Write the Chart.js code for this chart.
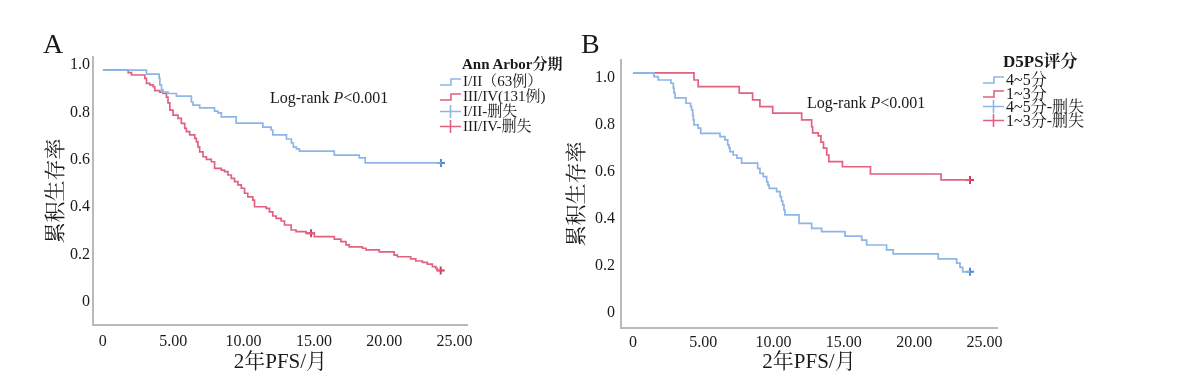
<!DOCTYPE html>
<html>
<head>
<meta charset="utf-8">
<script src="https://cdn.jsdelivr.net/npm/chart.js@4.4.1/dist/chart.umd.min.js"></script>
<style>
  html, body { margin:0; padding:0; background:#fff; }
  body { width:1185px; height:383px; position:relative; overflow:hidden;
         font-family:'Liberation Serif','Noto Serif CJK SC','Noto Sans CJK SC',serif; color:#1a1a1a; }
  canvas { position:absolute; top:0; }
  .t { position:absolute; white-space:nowrap; line-height:16px; }
  .leg { position:absolute; white-space:nowrap; font-size:15px; line-height:15px; }
  .leg div { height:15px; display:flex; align-items:center; }
  .leg svg { width:22px; height:15px; margin-right:1px; flex:none; }
</style>
</head>
<body>
<canvas id="cA" width="480" height="383" style="left:0px"></canvas>
<canvas id="cB" width="480" height="383" style="left:530px"></canvas>

<div class="t" style="left:43px;top:28px;font-size:28px;line-height:32px;">A</div>
<div class="t" style="left:581px;top:28px;font-size:28px;line-height:32px;">B</div>
<div class="t" style="left:270px;top:90px;font-size:16px;">Log-rank <i>P</i>&lt;0.001</div>
<div class="t" style="left:807px;top:95px;font-size:16px;">Log-rank <i>P</i>&lt;0.001</div>

<div class="leg" style="left:440px;top:55px;">
  <div style="font-weight:bold;padding-left:22px;height:19px;">Ann Arbor分期</div>
  <div><svg viewBox="0 0 22 15"><polyline points="0,11 11,11 11,5 21,5" fill="none" stroke="#8cb6e6" stroke-width="1.6"/></svg>I/II（63例）</div>
  <div><svg viewBox="0 0 22 15"><polyline points="0,11 11,11 11,5 21,5" fill="none" stroke="#e0627f" stroke-width="1.6"/></svg>III/IV(131例)</div>
  <div><svg viewBox="0 0 22 15"><path d="M0,7.5 H21 M10.5,1 V14" stroke="#8cb6e6" stroke-width="1.6"/></svg>I/II-删失</div>
  <div><svg viewBox="0 0 22 15"><path d="M0,7.5 H21 M10.5,1 V14" stroke="#e0627f" stroke-width="1.6"/></svg>III/IV-删失</div>
</div>

<div class="leg" style="left:983px;top:49px;font-size:16px;">
  <div style="font-weight:bold;font-size:17px;padding-left:20px;height:24px;">D5PS评分</div>
  <div style="height:13.5px"><svg viewBox="0 0 22 15"><polyline points="0,11 11,11 11,5 21,5" fill="none" stroke="#8cb6e6" stroke-width="1.6"/></svg>4~5分</div>
  <div style="height:13.5px"><svg viewBox="0 0 22 15"><polyline points="0,11 11,11 11,5 21,5" fill="none" stroke="#e0627f" stroke-width="1.6"/></svg>1~3分</div>
  <div style="height:13.5px"><svg viewBox="0 0 22 15"><path d="M0,7.5 H21 M10.5,1 V14" stroke="#8cb6e6" stroke-width="1.6"/></svg>4~5分-删失</div>
  <div style="height:13.5px"><svg viewBox="0 0 22 15"><path d="M0,7.5 H21 M10.5,1 V14" stroke="#e0627f" stroke-width="1.6"/></svg>1~3分-删失</div>
</div>

<script>
// ---------- data ----------
const xTickValues = [0, 5, 10, 15, 20, 25];
const yTickValues = [0, 0.2, 0.4, 0.6, 0.8, 1.0];
const xTitle = '2年PFS/月';
const yTitle = '累积生存率';

// Panel A: Ann Arbor stage
const aStage12Time = [0, 3.10, 4.00, 4.05, 4.17, 4.28, 4.63, 5.23, 6.29, 6.41, 6.88, 7.94, 8.18, 8.42, 9.48, 11.37, 11.96, 12.08, 13.05, 13.40, 13.54, 13.76, 13.97, 16.45, 18.22, 18.65, 24.03];
const aStage12Surv = [1, 0.983, 0.966, 0.937, 0.916, 0.907, 0.901, 0.890, 0.865, 0.852, 0.840, 0.827, 0.819, 0.802, 0.776, 0.759, 0.747, 0.726, 0.709, 0.692, 0.675, 0.667, 0.658, 0.641, 0.629, 0.608, 0.608];
const aStage34Time = [0, 1.80, 2.04, 2.98, 3.10, 3.34, 3.57, 3.69, 4.05, 4.28, 4.52, 4.63, 4.76, 4.99, 5.34, 5.58, 5.82, 5.94, 6.17, 6.53, 6.65, 6.76, 6.88, 7.12, 7.36, 7.71, 7.94, 8.42, 8.65, 8.89, 9.13, 9.36, 9.60, 9.84, 10.07, 10.30, 10.66, 10.78, 11.61, 11.84, 12.08, 12.32, 12.67, 12.91, 13.38, 13.73, 14.44, 15.03, 16.45, 16.92, 17.28, 17.51, 18.45, 18.70, 19.64, 20.70, 20.94, 21.88, 22.24, 22.71, 23.06, 23.42, 23.66, 23.77, 24.01];
const aStage34Surv = [1, 0.989, 0.979, 0.965, 0.944, 0.937, 0.930, 0.913, 0.907, 0.901, 0.886, 0.861, 0.831, 0.810, 0.796, 0.775, 0.754, 0.740, 0.726, 0.712, 0.697, 0.676, 0.655, 0.634, 0.623, 0.613, 0.585, 0.578, 0.571, 0.557, 0.543, 0.529, 0.515, 0.501, 0.480, 0.465, 0.451, 0.423, 0.416, 0.401, 0.384, 0.374, 0.363, 0.346, 0.325, 0.318, 0.311, 0.297, 0.286, 0.276, 0.262, 0.254, 0.248, 0.241, 0.233, 0.219, 0.212, 0.203, 0.194, 0.188, 0.181, 0.170, 0.163, 0.154, 0.154];
const aStage12CensorTime = [24.03];
const aStage12CensorSurv = [0.608];
const aStage34CensorTime = [14.80, 24.01];
const aStage34CensorSurv = [0.311, 0.154];

// Panel B: D5PS score
const bScore45Time = [0, 1.49, 1.80, 2.70, 2.87, 2.92, 2.99, 3.77, 4.10, 4.17, 4.25, 4.29, 4.34, 4.64, 4.82, 6.19, 6.54, 6.74, 6.83, 6.90, 7.13, 7.40, 7.73, 8.87, 9.03, 9.27, 9.51, 9.60, 9.69, 10.22, 10.46, 10.56, 10.65, 10.74, 10.81, 11.81, 12.71, 13.42, 15.08, 16.27, 16.62, 18.04, 18.51, 21.71, 23.02, 23.26, 23.45, 23.97];
const bScore45Surv = [1, 0.984, 0.970, 0.956, 0.935, 0.915, 0.894, 0.871, 0.857, 0.843, 0.821, 0.800, 0.779, 0.765, 0.743, 0.729, 0.715, 0.694, 0.681, 0.665, 0.651, 0.638, 0.616, 0.594, 0.573, 0.559, 0.537, 0.523, 0.509, 0.495, 0.474, 0.455, 0.438, 0.417, 0.396, 0.360, 0.339, 0.325, 0.306, 0.289, 0.268, 0.247, 0.230, 0.209, 0.191, 0.173, 0.154, 0.154];
const bScore13Time = [0, 4.34, 4.64, 7.56, 8.51, 9.03, 9.94, 12.00, 12.71, 12.78, 13.18, 13.37, 13.55, 13.78, 13.93, 14.90, 16.89, 21.91, 23.97];
const bScore13Surv = [1, 0.970, 0.942, 0.914, 0.885, 0.857, 0.829, 0.800, 0.770, 0.745, 0.732, 0.706, 0.680, 0.651, 0.623, 0.601, 0.570, 0.545, 0.545];
const bScore45CensorTime = [23.97];
const bScore45CensorSurv = [0.154];
const bScore13CensorTime = [23.97];
const bScore13CensorSurv = [0.545];

// ---------- styling ----------
const BLUE = '#8cb6e6', RED = '#e0627f', BLUE_C = '#4f8bd4', RED_C = '#d53a60';
const FONT = "'Liberation Serif','Noto Serif CJK SC','Noto Sans CJK SC',serif";
const TXT = '#1a1a1a';

function pts(t, s) { return t.map((x, i) => ({ x: x, y: s[i] })); }
function kmLine(t, s, color) {
  return { type: 'line', data: pts(t, s), borderColor: color, borderWidth: 1.7,
           stepped: true, pointRadius: 0, fill: false, tension: 0 };
}
function censor(t, s, color) {
  return { type: 'scatter', data: pts(t, s), pointStyle: 'cross', pointRadius: 4,
           borderColor: color, backgroundColor: color, pointBorderWidth: 2, showLine: false };
}

function makeChart(id, datasets, cfg) {
  return new Chart(document.getElementById(id), {
    type: 'line',
    data: { datasets: datasets },
    options: {
      responsive: false, animation: false, devicePixelRatio: 1,
      layout: { padding: { left: 0, top: cfg.top, right: cfg.right, bottom: 0 } },
      plugins: { legend: { display: false }, tooltip: { enabled: false } },
      scales: {
        x: {
          type: 'linear', min: cfg.xMin, max: cfg.xMax,
          grid: { display: false, drawTicks: false },
          border: { display: true, color: '#b9b9b9', width: 2 },
          afterBuildTicks: s => { s.ticks = xTickValues.map(v => ({ value: v })); },
          afterFit: s => { s.height = cfg.xH; },
          ticks: { padding: cfg.xPad, color: TXT, font: { family: FONT, size: 16 }, maxRotation: 0,
                   callback: v => v === 0 ? '0' : v.toFixed(2) },
          title: { display: true, text: xTitle, color: TXT, font: { family: FONT, size: 21 },
                   padding: { top: 0, bottom: 8 } }
        },
        y: {
          type: 'linear', min: cfg.yMin, max: cfg.yMax,
          grid: { display: false, drawTicks: false },
          border: { display: true, color: '#b9b9b9', width: 2 },
          afterBuildTicks: s => { s.ticks = yTickValues.map(v => ({ value: v })); },
          afterFit: s => { s.width = cfg.yW; },
          ticks: { padding: cfg.yPad, labelOffset: cfg.yLabelOffset, color: TXT,
                   font: { family: FONT, size: 16 },
                   callback: v => v === 0 ? '0' : v.toFixed(1) },
          title: { display: true, text: yTitle, color: TXT, font: { family: FONT, size: 21 },
                   padding: { top: cfg.yTitlePad, bottom: 0 } }
        }
      }
    }
  });
}

makeChart('cA', [
  kmLine(aStage12Time, aStage12Surv, BLUE),
  kmLine(aStage34Time, aStage34Surv, RED),
  censor(aStage12CensorTime, aStage12CensorSurv, BLUE_C),
  censor(aStage34CensorTime, aStage34CensorSurv, RED_C)
], { top: 57, right: 11, xMin: -0.70, xMax: 25.94, yMin: -0.076, yMax: 1.055,
     xH: 58, yW: 93, xPad: 7, yPad: 3, yLabelOffset: -5, yTitlePad: 44 });

makeChart('cB', [
  kmLine(bScore45Time, bScore45Surv, BLUE),
  kmLine(bScore13Time, bScore13Surv, RED),
  censor(bScore45CensorTime, bScore45CensorSurv, BLUE_C),
  censor(bScore13CensorTime, bScore13CensorSurv, RED_C)
], { top: 60, right: 13, xMin: -0.85, xMax: 25.89, yMin: -0.085, yMax: 1.055,
     xH: 55, yW: 91, xPad: 5, yPad: 6, yLabelOffset: 5, yTitlePad: 35 });
</script>
</body>
</html>
